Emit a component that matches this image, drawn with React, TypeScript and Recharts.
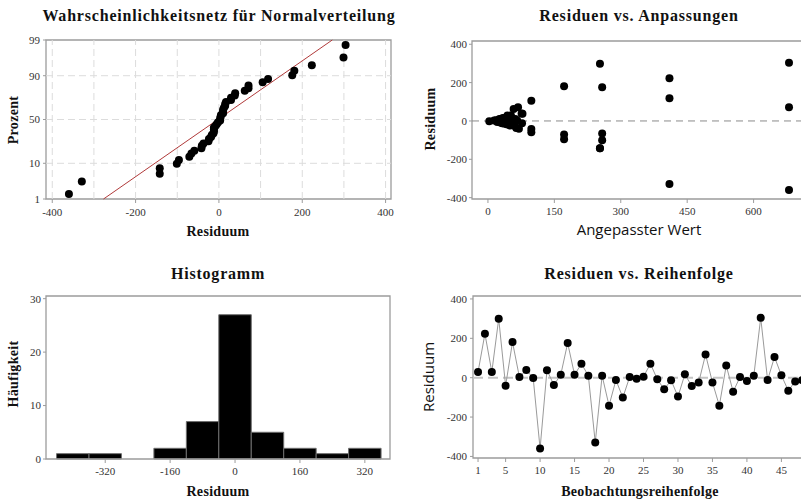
import React from "react";
import {
  ScatterChart,
  Scatter,
  LineChart,
  Line,
  ComposedChart,
  XAxis,
  YAxis,
  ReferenceLine,
  ReferenceArea,
} from "recharts";

// ---- data ----

// residuals in observation order (1..48)
const OBS_RESIDUALS = [
  29, 223, 29, 299, -41, 181, 3, 39, -2, -360, 38, -37, 15, 176, 15, 71, 10, -329,
  10, -142, -12, -101, 4, -5, 5, 71, -8, -59, -13, -96, 17, -42, -25, 118, -24,
  -142, 62, -71, 3, -17, 10, 304, -12, 105, 12, -66, -19, -12,
];

// normal probability plot: sorted residuals and their plotted percent
const PROB_RESIDUALS = [
  -360, -329, -142, -142, -101, -96, -71, -66, -59, -42, -41, -37, -25, -24, -19,
  -17, -13, -12, -12, -12, -8, -5, -2, 3, 3, 4, 5, 10, 10, 10, 12, 15, 15, 17, 29,
  29, 38, 39, 62, 71, 71, 105, 118, 176, 181, 223, 299, 304,
];
const PROB_PERCENT = [
  1.45, 3.51, 5.58, 7.64, 9.71, 11.78, 13.84, 15.91, 17.98, 20.04, 22.11, 24.17,
  26.24, 28.31, 30.37, 32.44, 34.5, 36.57, 38.64, 40.7, 42.77, 44.83, 46.9, 48.97,
  51.03, 53.1, 55.17, 57.23, 59.3, 61.36, 63.43, 65.5, 67.56, 69.63, 71.69, 73.76,
  75.83, 77.89, 79.96, 82.02, 84.09, 86.16, 88.22, 90.29, 92.36, 94.42, 96.49, 98.55,
];
const PROB_TICKS = [1, 10, 50, 90, 99];
const PROB_X_TICKS = [-400, -200, 0, 200, 400];
const PROB_GRID_X = [-400, -300, -200, -100, 0, 100, 200, 300, 400];
const PROB_GRID_PCT = [10, 50, 90];
const FIT_LINE_X = [-277, 272];
const FIT_LINE_PCT = [1, 99];

// residuals vs fitted values
const FITTED = [
  3, 14, 18, 21, 24, 26, 28, 30, 32, 34, 36, 38, 40, 42, 44, 46, 48, 50, 52, 54, 58,
  60, 62, 64, 66, 68, 70, 76, 78, 77, 98, 98, 98, 172, 172, 172, 253, 253, 253,
  258, 258, 258, 410, 410, 410, 680, 680, 680,
];
const FIT_RESIDUALS = [
  -2, 3, 4, -5, 5, 10, -8, 12, -12, 15, -13, 15, 17, -17, 29, -19, 10, -24, 29, -12,
  62, -25, 10, -37, 3, 71, -41, 39, 38, -12, 105, -42, -59, 181, -71, -96, 299,
  -142, -142, 176, -66, -101, 223, 118, -329, 304, 71, -360,
];
const FIT_X_TICKS = [0, 150, 300, 450, 600];
const RES_TICKS = [-400, -200, 0, 200, 400];

// histogram
const HIST_CENTERS = [-400, -320, -240, -160, -80, 0, 80, 160, 240, 320];
const HIST_COUNTS = [1, 1, 0, 2, 7, 27, 5, 2, 1, 2];
const HIST_BIN_WIDTH = 80;
const HIST_X_TICKS = [-320, -160, 0, 160, 320];
const HIST_Y_TICKS = [0, 10, 20, 30];

const ORDER_TICKS = [1, 5, 10, 15, 20, 25, 30, 35, 40, 45];

// ---- helpers ----

// inverse normal cdf (Acklam), used for the probability axis
function probit(p: number) {
  const a = [-39.69683028665376, 220.9460984245205, -275.9285104469687, 138.357751867269, -30.66479806614716, 2.506628277459239];
  const b = [-54.47609879822406, 161.5858368580409, -155.6989798598866, 66.80131188771972, -13.28068155288572];
  const c = [-0.007784894002430293, -0.3223964580411365, -2.400758277161838, -2.549732539343734, 4.374664141464968, 2.938163982698783];
  const d = [0.007784695709041462, 0.3224671290700398, 2.445134137142996, 3.754408661907416];
  const pl = 0.02425;
  if (p < pl) {
    const q = Math.sqrt(-2 * Math.log(p));
    return (((((c[0] * q + c[1]) * q + c[2]) * q + c[3]) * q + c[4]) * q + c[5]) /
      ((((d[0] * q + d[1]) * q + d[2]) * q + d[3]) * q + 1);
  }
  if (p > 1 - pl) {
    const q = Math.sqrt(-2 * Math.log(1 - p));
    return -(((((c[0] * q + c[1]) * q + c[2]) * q + c[3]) * q + c[4]) * q + c[5]) /
      ((((d[0] * q + d[1]) * q + d[2]) * q + d[3]) * q + 1);
  }
  const q = p - 0.5;
  const r = q * q;
  return ((((((a[0] * r + a[1]) * r + a[2]) * r + a[3]) * r + a[4]) * r + a[5]) * q) /
    (((((b[0] * r + b[1]) * r + b[2]) * r + b[3]) * r + b[4]) * r + 1);
}
const z = (pct: number) => probit(pct / 100);

const FRAME = "#9c9c9c";
const TICK = { fontSize: 11, fill: "#333", fontFamily: "Liberation Serif" };
const SERIF = "Liberation Serif";
const SANS = "Open Sans";

const Dot = (props: any) => {
  const { cx, cy, index } = props;
  if (cx == null || cy == null) return <g key={`n-${index}`} />;
  return <circle key={`d-${index}`} cx={cx} cy={cy} r={4} fill="#000" />;
};

// ---- panels ----

function ProbPlot() {
  const data = PROB_RESIDUALS.map((x, i) => ({ x, y: z(PROB_PERCENT[i]) }));
  const yDom = [z(1), z(99)];
  const xDom = [-415, 413];
  return (
    <ScatterChart width={400} height={250} margin={{ top: 40, right: 9, bottom: 0, left: 0 }}>
      <XAxis
        type="number"
        dataKey="x"
        domain={xDom}
        ticks={PROB_X_TICKS}
        allowDataOverflow
        height={51}
        axisLine={false}
        tickSize={4}
        tickMargin={5}
        tickLine={{ stroke: FRAME }}
        tick={TICK}
      />
      <YAxis
        type="number"
        dataKey="y"
        domain={yDom}
        ticks={PROB_TICKS.map(z)}
        tickFormatter={(v: number) => {
          let best = PROB_TICKS[0];
          PROB_TICKS.forEach((p) => {
            if (Math.abs(z(p) - v) < Math.abs(z(best) - v)) best = p;
          });
          return String(best);
        }}
        allowDataOverflow
        width={46}
        axisLine={false}
        tickSize={3}
        tickMargin={3}
        tickLine={{ stroke: FRAME }}
        tick={TICK}
      />
      {PROB_GRID_X.map((v) => (
        <ReferenceLine key={`gx${v}`} x={v} stroke="#dcdcdc" strokeDasharray="7 4" />
      ))}
      {PROB_GRID_PCT.map((p) => (
        <ReferenceLine key={`gy${p}`} y={z(p)} stroke="#dcdcdc" strokeDasharray="7 4" />
      ))}
      <ReferenceArea x1={xDom[0]} x2={xDom[1]} y1={yDom[0]} y2={yDom[1]} fill="none" stroke={FRAME} strokeWidth={1.3} ifOverflow="visible" />
      <ReferenceLine
        segment={[
          { x: FIT_LINE_X[0], y: z(FIT_LINE_PCT[0]) },
          { x: FIT_LINE_X[1], y: z(FIT_LINE_PCT[1]) },
        ]}
        stroke="#b03a3a"
        strokeWidth={1}
        ifOverflow="visible"
      />
      <Scatter data={data} shape={Dot} isAnimationActive={false} />
    </ScatterChart>
  );
}

function FitsPlot() {
  const data = FITTED.map((x, i) => ({ x, y: FIT_RESIDUALS[i] }));
  const xDom = [-36, 750];
  const yDom = [-407, 417];
  return (
    <ScatterChart width={420} height={250} margin={{ top: 41, right: 0, bottom: 0, left: 0 }}>
      <XAxis
        type="number"
        dataKey="x"
        domain={xDom}
        ticks={FIT_X_TICKS}
        allowDataOverflow
        height={51}
        axisLine={false}
        tickSize={4}
        tickMargin={4}
        tickLine={{ stroke: FRAME }}
        tick={TICK}
      />
      <YAxis
        type="number"
        dataKey="y"
        domain={yDom}
        ticks={RES_TICKS}
        allowDataOverflow
        width={72}
        axisLine={false}
        tickSize={3}
        tickMargin={2}
        tickLine={{ stroke: FRAME }}
        tick={TICK}
      />
      <ReferenceArea x1={xDom[0]} x2={xDom[1]} y1={yDom[0]} y2={yDom[1]} fill="none" stroke={FRAME} strokeWidth={1.3} ifOverflow="visible" />
      <ReferenceLine y={0} stroke="#8a8a8a" strokeDasharray="7 5" />
      <Scatter data={data} shape={Dot} isAnimationActive={false} />
    </ScatterChart>
  );
}

function Histogram() {
  const data = HIST_CENTERS.map((c, i) => ({ c, n: HIST_COUNTS[i] }));
  const xDom = [-466, 382];
  const yDom = [0, 30.5];
  return (
    <ComposedChart width={400} height={250} data={data} margin={{ top: 46, right: 10, bottom: 0, left: 0 }}>
      <XAxis
        type="number"
        dataKey="c"
        domain={xDom}
        ticks={HIST_X_TICKS}
        allowDataOverflow
        height={41}
        axisLine={false}
        tickSize={4}
        tickMargin={4}
        tickLine={{ stroke: FRAME }}
        tick={TICK}
      />
      <YAxis
        type="number"
        domain={yDom}
        ticks={HIST_Y_TICKS}
        allowDataOverflow
        width={46}
        axisLine={false}
        tickSize={3}
        tickMargin={2}
        tickLine={{ stroke: FRAME }}
        tick={TICK}
      />
      {data
        .filter((d) => d.n > 0)
        .map((d) => (
          <ReferenceArea
            key={`b${d.c}`}
            x1={d.c - HIST_BIN_WIDTH / 2}
            x2={d.c + HIST_BIN_WIDTH / 2}
            y1={0}
            y2={d.n}
            fill="#000"
            fillOpacity={1}
            stroke="#6e6e6e"
            strokeWidth={1}
          />
        ))}
      <ReferenceArea x1={xDom[0]} x2={xDom[1]} y1={yDom[0]} y2={yDom[1]} fill="none" stroke={FRAME} strokeWidth={1.3} ifOverflow="visible" />
    </ComposedChart>
  );
}

function OrderPlot() {
  const data = OBS_RESIDUALS.map((r, i) => ({ obs: i + 1, r }));
  const xDom = [0.27, 50.6];
  const yDom = [-408, 415];
  return (
    <LineChart width={420} height={250} data={data} margin={{ top: 46, right: 0, bottom: 0, left: 0 }}>
      <XAxis
        type="number"
        dataKey="obs"
        domain={xDom}
        ticks={ORDER_TICKS}
        allowDataOverflow
        height={42}
        axisLine={false}
        tickSize={4}
        tickMargin={4}
        tickLine={{ stroke: FRAME }}
        tick={TICK}
      />
      <YAxis
        type="number"
        domain={yDom}
        ticks={RES_TICKS}
        allowDataOverflow
        width={73}
        axisLine={false}
        tickSize={3}
        tickMargin={3}
        tickLine={{ stroke: FRAME }}
        tick={TICK}
      />
      <ReferenceArea x1={xDom[0]} x2={xDom[1]} y1={yDom[0]} y2={yDom[1]} fill="none" stroke={FRAME} strokeWidth={1.3} ifOverflow="visible" />
      <ReferenceLine y={0} stroke="#c4c4c4" strokeWidth={2} strokeDasharray="10 5" />
      <Line
        type="linear"
        dataKey="r"
        stroke="#9a9a9a"
        strokeWidth={1}
        dot={Dot}
        activeDot={false}
        isAnimationActive={false}
      />
    </LineChart>
  );
}

export default function App() {
  const title = { fontFamily: SERIF, fontWeight: 700, fontSize: 16, fill: "#111", letterSpacing: 0.8 } as const;
  const axisSerif = { fontFamily: SERIF, fontWeight: 700, fontSize: 14, fill: "#111", letterSpacing: 0.3 } as const;
  const axisSans = { fontFamily: SANS, fontSize: 15, fill: "#111" } as const;
  return (
    <div
      style={{
        position: "fixed",
        left: 0,
        top: 0,
        width: 801,
        height: 499,
        overflow: "hidden",
        background: "#fff",
      }}
    >
      <div style={{ position: "absolute", left: 0, top: 0 }}>
        <ProbPlot />
      </div>
      <div style={{ position: "absolute", left: 400, top: 0 }}>
        <FitsPlot />
      </div>
      <div style={{ position: "absolute", left: 0, top: 250 }}>
        <Histogram />
      </div>
      <div style={{ position: "absolute", left: 400, top: 250 }}>
        <OrderPlot />
      </div>
      <svg
        width={801}
        height={499}
        style={{ position: "absolute", left: 0, top: 0, pointerEvents: "none" }}
      >
        <text x={219} y={21} textAnchor="middle" style={title}>
          Wahrscheinlichkeitsnetz für Normalverteilung
        </text>
        <text x={639} y={21} textAnchor="middle" style={title}>
          Residuen vs. Anpassungen
        </text>
        <text x={218} y={279} textAnchor="middle" style={title}>
          Histogramm
        </text>
        <text x={639} y={279} textAnchor="middle" style={title}>
          Residuen vs. Reihenfolge
        </text>

        <text x={218} y={236} textAnchor="middle" style={axisSerif}>
          Residuum
        </text>
        <text x={18} y={120} textAnchor="middle" transform="rotate(-90 18 120)" style={axisSerif}>
          Prozent
        </text>

        <text x={639} y={235} textAnchor="middle" style={axisSans}>
          Angepasster Wert
        </text>
        <text x={435} y={119} textAnchor="middle" transform="rotate(-90 435 119)" style={axisSerif}>
          Residuum
        </text>

        <text x={218} y={496} textAnchor="middle" style={axisSerif}>
          Residuum
        </text>
        <text x={18} y={374} textAnchor="middle" transform="rotate(-90 18 374)" style={axisSerif}>
          Häufigkeit
        </text>

        <text x={640} y={496} textAnchor="middle" style={axisSerif}>
          Beobachtungsreihenfolge
        </text>
        <text x={434} y={377} textAnchor="middle" transform="rotate(-90 434 377)" style={axisSans}>
          Residuum
        </text>
      </svg>
    </div>
  );
}
